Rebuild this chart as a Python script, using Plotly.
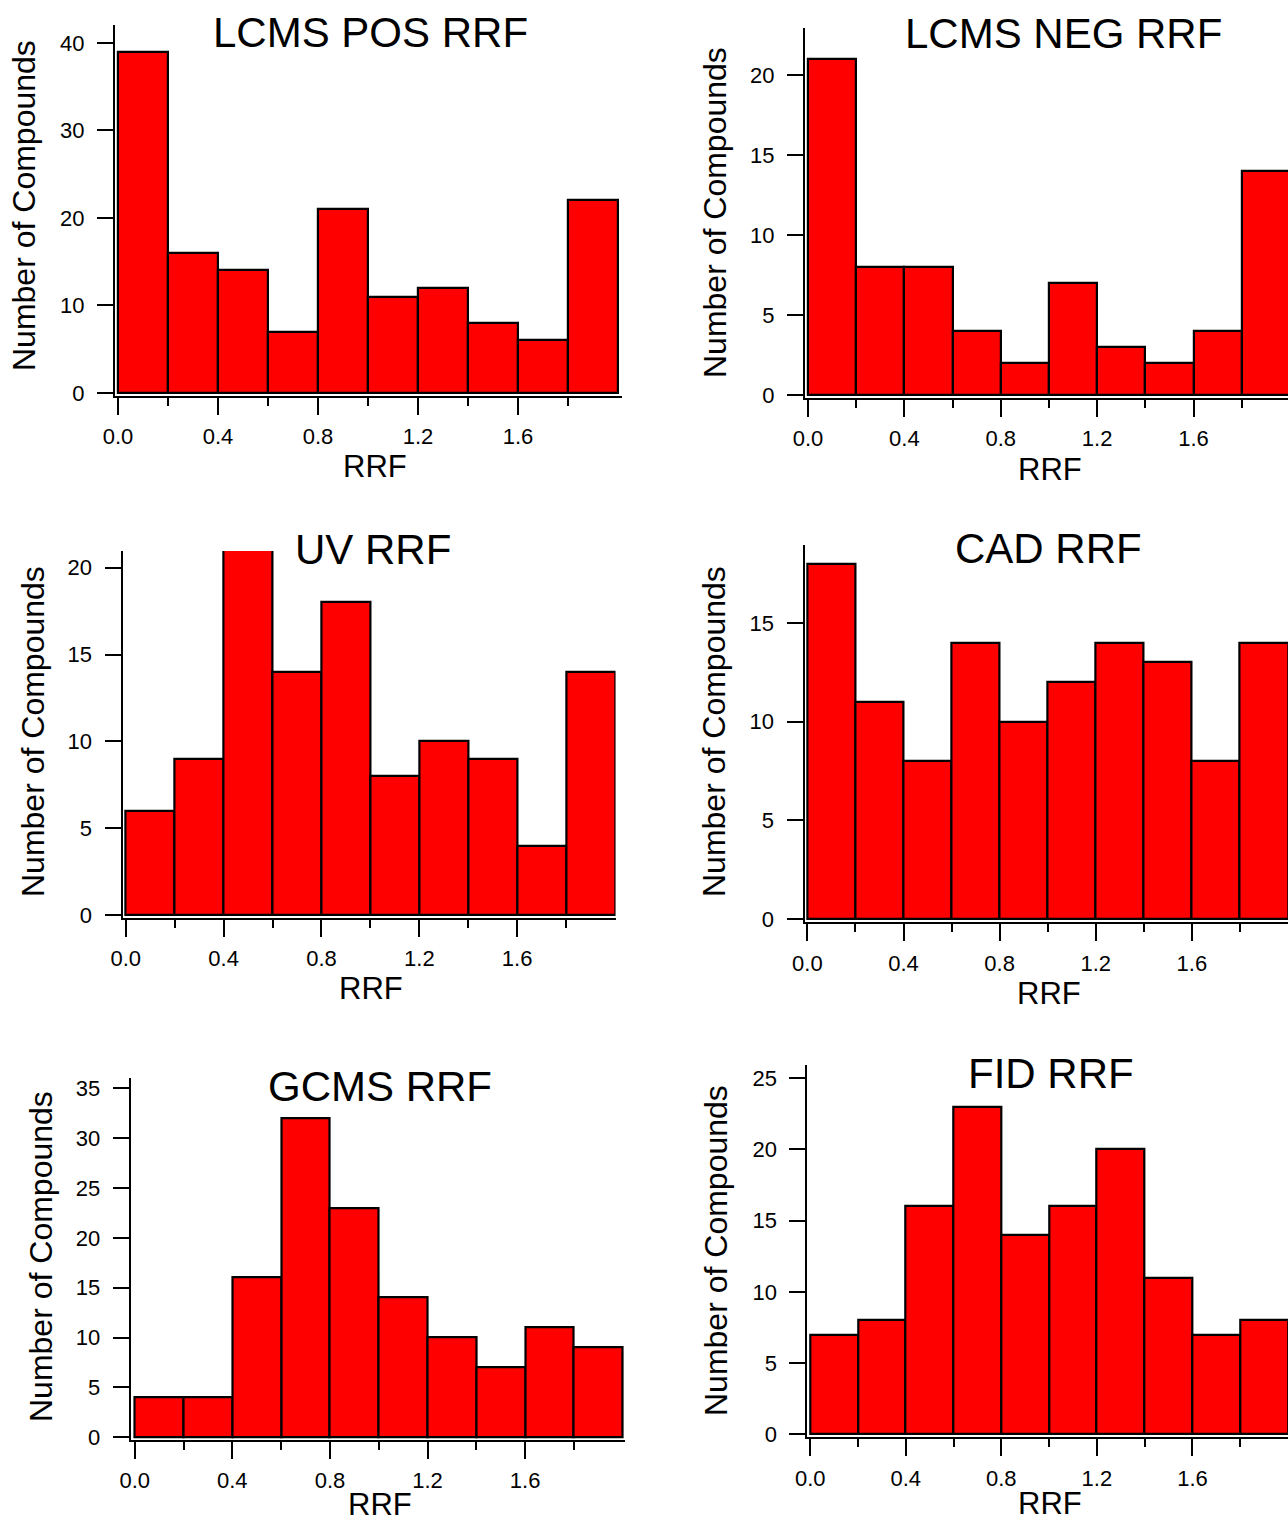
import plotly.graph_objects as go

# ---- data ----
bin_edges = [0.0, 0.2, 0.4, 0.6, 0.8, 1.0, 1.2, 1.4, 1.6, 1.8]
bin_width = 0.2
x_tick_vals = [0.0, 0.4, 0.8, 1.2, 1.6]
x_tick_text = ["0.0", "0.4", "0.8", "1.2", "1.6"]
x_minor_vals = [0.2, 0.6, 1.0, 1.4, 1.8]

lcms_pos = [39, 16, 14, 7, 21, 11, 12, 8, 6, 22]
lcms_neg = [21, 8, 8, 4, 2, 7, 3, 2, 4, 14]
uv = [6, 9, 21, 14, 18, 8, 10, 9, 4, 14]
cad = [18, 11, 8, 14, 10, 12, 14, 13, 8, 14]
gcms = [4, 4, 16, 32, 23, 14, 10, 7, 11, 9]
fid = [7, 8, 16, 23, 14, 16, 20, 11, 7, 8]

titles = ["LCMS POS RRF", "LCMS NEG RRF", "UV RRF", "CAD RRF", "GCMS RRF", "FID RRF"]
series = [lcms_pos, lcms_neg, uv, cad, gcms, fid]
y_dticks = [10, 5, 5, 5, 5, 5]
x_title = "RRF"
y_title = "Number of Compounds"

# ---- layout constants (pixels) ----
W, H = 1288, 1525
FONT = "Liberation Sans, Arial, sans-serif"

# per panel: x domain px, x range, y domain px (top, bottom), y range
panels = [
    dict(xd=(115, 622), xr=(-0.012, 2.016), yd=(25, 396), yr=(-0.35, 42.05),
         title=(370, 32), xt=(375, 467), yt=(24, 206)),
    dict(xd=(805, 1288), xr=(-0.0125, 1.992), yd=(28, 398), yr=(-0.19, 22.94),
         title=(1063, 34), xt=(1050, 470), yt=(715, 213)),
    dict(xd=(122.5, 615.5), xr=(-0.0135, 2.002), yd=(551, 917.5), yr=(-0.14, 20.96),
         title=(373, 549), xt=(371, 988), yt=(33, 732)),
    dict(xd=(804.5, 1288), xr=(-0.012, 2.0), yd=(545, 922.3), yr=(-0.17, 18.95),
         title=(1048, 548), xt=(1049, 993), yt=(714, 732)),
    dict(xd=(130.6, 624.5), xr=(-0.0168, 2.007), yd=(1078.3, 1440), yr=(-0.27, 36.0),
         title=(380, 1086), xt=(380, 1504), yt=(41, 1257)),
    dict(xd=(807.4, 1288), xr=(-0.0117, 2.0), yd=(1065, 1437.3), yr=(-0.21, 25.93),
         title=(1051, 1073), xt=(1050, 1503), yt=(716, 1251)),
]

centers = [e + bin_width / 2 for e in bin_edges]

fig = go.Figure()
annotations = []
layout = dict(
    width=W, height=H,
    margin=dict(l=0, r=0, t=0, b=0),
    paper_bgcolor="white", plot_bgcolor="white",
    showlegend=False,
    bargap=0,
    font=dict(family=FONT, color="black"),
)

for i, (p, vals) in enumerate(zip(panels, series)):
    n = i + 1
    xa = "x" if n == 1 else f"x{n}"
    ya = "y" if n == 1 else f"y{n}"
    fig.add_trace(go.Bar(
        x=centers, y=vals, width=bin_width,
        xaxis=xa, yaxis=ya,
        marker=dict(color="#ff0000", line=dict(color="black", width=2.2)),
        hoverinfo="skip",
    ))
    xkey = "xaxis" if n == 1 else f"xaxis{n}"
    ykey = "yaxis" if n == 1 else f"yaxis{n}"
    layout[xkey] = dict(
        domain=[p["xd"][0] / W, p["xd"][1] / W],
        range=list(p["xr"]),
        anchor=ya, automargin=False,
        showgrid=False, zeroline=False,
        showline=True, linecolor="black", linewidth=2,
        ticks="outside", ticklen=17, tickwidth=2, tickcolor="black",
        tickmode="array", tickvals=x_tick_vals, ticktext=x_tick_text,
        minor=dict(tickmode="array", tickvals=x_minor_vals, ticks="outside",
                   ticklen=8, tickwidth=2, tickcolor="black", showgrid=False),
        tickfont=dict(size=22, family=FONT, color="black"),
        ticklabelstandoff=3,
        fixedrange=True,
    )
    layout[ykey] = dict(
        domain=[1 - p["yd"][1] / H, 1 - p["yd"][0] / H],
        range=list(p["yr"]),
        anchor=xa, automargin=False,
        showgrid=False, zeroline=False,
        showline=True, linecolor="black", linewidth=2,
        ticks="outside", ticklen=16, tickwidth=2, tickcolor="black",
        dtick=y_dticks[i], tick0=0,
        tickfont=dict(size=22, family=FONT, color="black"),
        ticklabelstandoff=8,
        fixedrange=True,
    )
    tx, ty = p["title"]
    annotations.append(dict(text=titles[i], x=tx / W, y=1 - ty / H, xref="paper", yref="paper",
                            xanchor="center", yanchor="middle", showarrow=False,
                            font=dict(size=42, family=FONT, color="black")))
    ax_, ay_ = p["xt"]
    annotations.append(dict(text=x_title, x=ax_ / W, y=1 - ay_ / H, xref="paper", yref="paper",
                            xanchor="center", yanchor="middle", showarrow=False,
                            font=dict(size=31, family=FONT, color="black")))
    bx, by = p["yt"]
    annotations.append(dict(text=y_title, x=bx / W, y=1 - by / H, xref="paper", yref="paper",
                            xanchor="center", yanchor="middle", showarrow=False, textangle=-90,
                            font=dict(size=32, family=FONT, color="black")))

layout["annotations"] = annotations
fig.update_layout(**layout)
fig.write_html(
    "out.html",
    config={"displayModeBar": False},
    post_script="document.body.style.margin='0';document.body.style.overflow='hidden';",
)
